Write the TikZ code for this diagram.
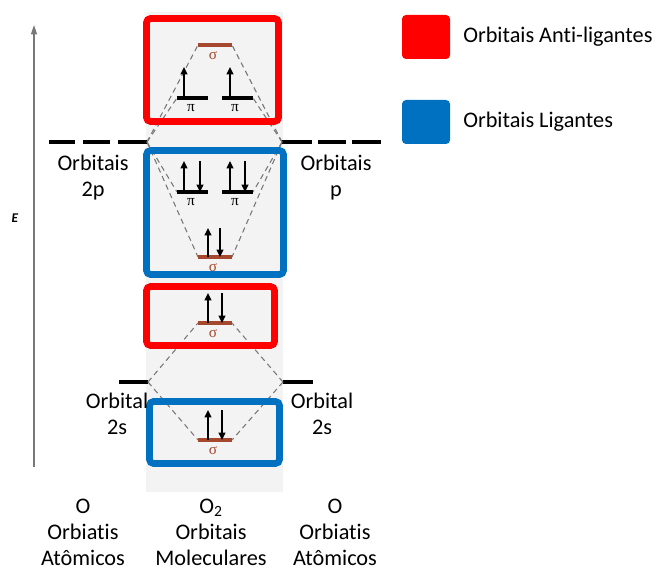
\documentclass[tikz,border=0pt]{standalone}
\usepackage{fontspec}
\setmainfont[Ligatures=NoCommon]{Carlito}
\newfontfamily\grk{Liberation Serif}
\usetikzlibrary{arrows.meta}
\definecolor{ored}{RGB}{255,0,0}
\definecolor{oblue}{RGB}{0,112,192}
\definecolor{sigbrown}{RGB}{165,72,45}
\definecolor{colgray}{RGB}{243,243,243}
\definecolor{corrgray}{RGB}{120,120,120}
\begin{document}
\begin{tikzpicture}[x=0.75pt,y=-0.75pt,
  lvl/.style={line width=2.3pt, black},
  siglvl/.style={line width=2.3pt, sigbrown},
  corr/.style={corrgray, line width=0.8pt, dash pattern=on 4pt off 3pt},
  spin/.style={line width=1.8pt, black, -{Triangle[length=5.5pt,width=5pt]}},
  mobox/.style={line width=5pt, rounded corners=3pt, inner sep=0pt},
  lbl/.style={font=\fontsize{16.7}{19.5}\selectfont, align=center, inner sep=0pt},
  pilbl/.style={font=\grk\fontsize{11.5}{12}\selectfont, inner sep=0pt, black},
  siglbl/.style={font=\grk\fontsize{11.5}{12}\selectfont, inner sep=0pt, text=sigbrown},
  legsq/.style={rounded corners=3pt, minimum width=36pt, minimum height=33pt, inner sep=0pt}
]
\useasboundingbox (0,0) rectangle (657,574);
% gray column
\fill[colgray] (146,12) rectangle (283,492);

% axis
\coordinate (axB) at (34,467);
\coordinate (axT) at (34,25);
\draw[corrgray, line width=0.9pt, -{Triangle[length=7pt,width=4.5pt]}] (axB) -- (axT);
\node[font=\bfseries\itshape\fontsize{10}{10}\selectfont, inner sep=0pt] (E) at (15,218) {E};

% atomic levels
\coordinate (p2L) at (147,142);
\coordinate (p2R) at (282,142);
\coordinate (s2L) at (148,382);
\coordinate (s2R) at (283,382);
\draw[line width=2.4pt] (49,142) -- (75,142) (83,142) -- (110,142) (118,142) -- (p2L);
\draw[line width=2.4pt] (p2R) -- (312,142) (318,142) -- (346,142) (352,142) -- (381,142);
\draw[lvl] (119,382) -- (s2L);
\draw[lvl] (s2R) -- (313,382);

% MO level coordinates
\coordinate (ss2pL) at (198,45);  \coordinate (ss2pR) at (232,45);
\coordinate (ps1L) at (177,98);   \coordinate (ps1R) at (208,98);
\coordinate (ps2L) at (222,98);   \coordinate (ps2R) at (253,98);
\coordinate (pb1L) at (177,192);  \coordinate (pb1R) at (208,192);
\coordinate (pb2L) at (222,192);  \coordinate (pb2R) at (253,192);
\coordinate (sb2pL) at (198,257); \coordinate (sb2pR) at (232,257);
\coordinate (ss2sL) at (198,323); \coordinate (ss2sR) at (232,323);
\coordinate (sb2sL) at (198,440); \coordinate (sb2sR) at (232,440);

% correlation lines
\draw[corr] (p2L) -- (ss2pL);  \draw[corr] (p2R) -- (ss2pR);
\draw[corr] (p2L) -- (ps1L);   \draw[corr] (p2R) -- (ps2R);
\draw[corr] (p2L) -- (pb1L);   \draw[corr] (p2R) -- (pb2R);
\draw[corr] (p2L) -- (sb2pL);  \draw[corr] (p2R) -- (sb2pR);
\draw[corr] (s2L) -- (ss2sL);  \draw[corr] (s2R) -- (ss2sR);
\draw[corr] (s2L) -- (sb2sL);  \draw[corr] (s2R) -- (sb2sR);

% levels
\draw[siglvl] (ss2pL) -- (ss2pR);
\draw[lvl] (ps1L) -- (ps1R);
\draw[lvl] (ps2L) -- (ps2R);
\draw[lvl] (pb1L) -- (pb1R);
\draw[lvl] (pb2L) -- (pb2R);
\draw[siglvl] (sb2pL) -- (sb2pR);
\draw[siglvl] (ss2sL) -- (ss2sR);
\draw[siglvl] (sb2sL) -- (sb2sR);

% labels of levels
\node[siglbl] (t1) at (213,56) {σ};
\node[pilbl] (t2) at (191,108) {π};
\node[pilbl] (t3) at (235,108) {π};
\node[pilbl] (t4) at (191,202) {π};
\node[pilbl] (t5) at (235,202) {π};
\node[siglbl] (t6) at (213,268) {σ};
\node[siglbl] (t7) at (213,334) {σ};
\node[siglbl] (t8) at (213,451) {σ};

% electrons
\draw[spin] (184,98) -- (184,67);
\draw[spin] (230,98) -- (230,67);
\draw[spin] (184,192) -- (184,161);
\draw[spin] (200,161) -- (200,192);
\draw[spin] (230,192) -- (230,161);
\draw[spin] (245,161) -- (245,192);
\draw[spin] (208,257) -- (208,228);
\draw[spin] (220,228) -- (220,257);
\draw[spin] (208,323) -- (208,293);
\draw[spin] (222,293) -- (222,323);
\draw[spin] (208,440) -- (208,410);
\draw[spin] (222,410) -- (222,440);

% boxes
\node[mobox, draw=ored, minimum width=99pt, minimum height=77.25pt] (anti1) at (212.5,70) {};
\node[mobox, draw=oblue, minimum width=102.75pt, minimum height=93pt] (bond1) at (215,212.5) {};
\node[mobox, draw=ored, minimum width=96pt, minimum height=44.25pt] (anti2) at (210.5,316) {};
\node[mobox, draw=oblue, minimum width=97.5pt, minimum height=46.5pt] (bond2) at (214.5,432.5) {};

% side labels
\node[lbl] (l2p) at (93,178) {Orbitais\\2p};
\node[lbl] (r2p) at (336,178) {Orbitais\\p};
\node[lbl] (l2s) at (117,414) {Orbital\\2s};
\node[lbl] (r2s) at (322,414) {Orbital\\2s};

% bottom labels
\node[lbl] (bl) at (83,532) {O\\Orbiatis\\Atômicos};
\node[lbl] (bm) at (211,532) {O\textsubscript{2}\\Orbitais\\Moleculares};
\node[lbl] (br) at (335,532) {O\\Orbiatis\\Atômicos};

% legend
\node[legsq, fill=ored] (legR) at (426,37) {};
\node[lbl, anchor=west] (legRt) at (463,37) {Orbitais Anti-ligantes};
\node[legsq, fill=oblue] (legB) at (426,122) {};
\node[lbl, anchor=west] (legBt) at (463,122) {Orbitais Ligantes};
\end{tikzpicture}
\end{document}
